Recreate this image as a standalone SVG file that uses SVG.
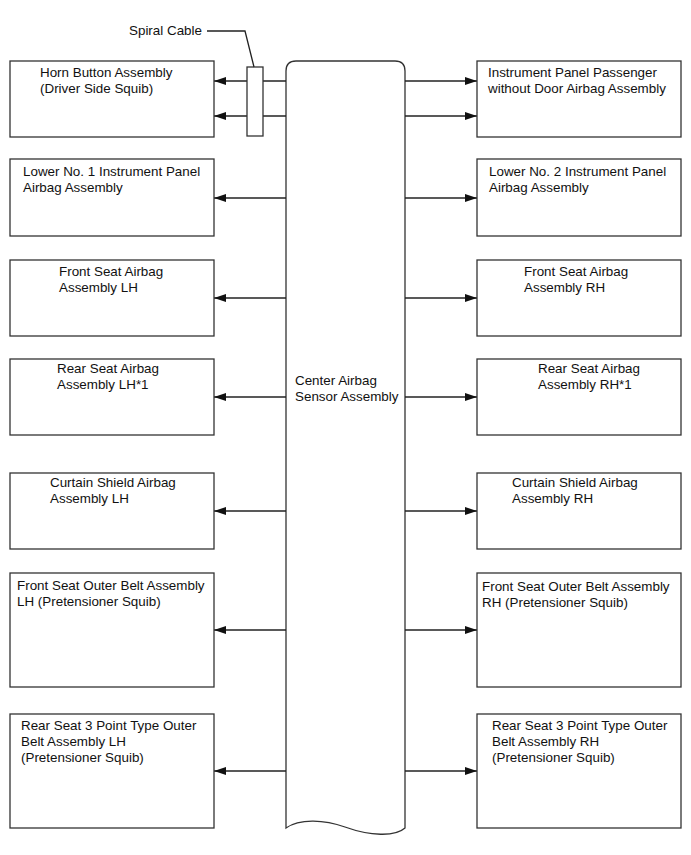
<svg xmlns="http://www.w3.org/2000/svg" width="691" height="855" viewBox="0 0 691 855">
<style>
.box{fill:#fff;stroke:#333;stroke-width:1.3}
.ln{fill:none;stroke:#222;stroke-width:1.3}
text{font-family:"Liberation Sans",Arial,sans-serif;font-size:13.4px;fill:#111}
</style>
<defs>
<marker id="ah" viewBox="0 0 12 8" refX="12" refY="4" markerWidth="12" markerHeight="8" markerUnits="userSpaceOnUse" orient="auto">
<path d="M0,0 L12,4 L0,8 Z" fill="#111"/>
</marker>
</defs>
<rect width="691" height="855" fill="#fff"/>

<g id="center">
<path class="box" d="M286,828 L286,71 Q286,61 296,61 L395,61 Q405,61 405,71 L405,828 C395,837 370,836 345,827 C325,820 300,818 286,828 Z"/>
<text x="295" y="385">Center Airbag</text>
<text x="295" y="401">Sensor Assembly</text>
</g>

<g id="connectors">
<line class="ln" x1="286" y1="81" x2="214" y2="81" marker-end="url(#ah)"/>
<line class="ln" x1="286" y1="116" x2="214" y2="116" marker-end="url(#ah)"/>
<line class="ln" x1="405" y1="81" x2="477" y2="81" marker-end="url(#ah)"/>
<line class="ln" x1="405" y1="116" x2="477" y2="116" marker-end="url(#ah)"/>
<line class="ln" x1="286" y1="198" x2="214" y2="198" marker-end="url(#ah)"/>
<line class="ln" x1="405" y1="198" x2="477" y2="198" marker-end="url(#ah)"/>
<line class="ln" x1="286" y1="298" x2="214" y2="298" marker-end="url(#ah)"/>
<line class="ln" x1="405" y1="298" x2="477" y2="298" marker-end="url(#ah)"/>
<line class="ln" x1="286" y1="397" x2="214" y2="397" marker-end="url(#ah)"/>
<line class="ln" x1="405" y1="397" x2="477" y2="397" marker-end="url(#ah)"/>
<line class="ln" x1="286" y1="511" x2="214" y2="511" marker-end="url(#ah)"/>
<line class="ln" x1="405" y1="511" x2="477" y2="511" marker-end="url(#ah)"/>
<line class="ln" x1="286" y1="630" x2="214" y2="630" marker-end="url(#ah)"/>
<line class="ln" x1="405" y1="630" x2="477" y2="630" marker-end="url(#ah)"/>
<line class="ln" x1="286" y1="771" x2="214" y2="771" marker-end="url(#ah)"/>
<line class="ln" x1="405" y1="771" x2="477" y2="771" marker-end="url(#ah)"/>
</g>

<g id="spiral-cable">
<rect class="box" x="247" y="67" width="16" height="69"/>
<polyline class="ln" points="207,31 245,31 254,67"/>
<text x="129" y="35">Spiral Cable</text>
</g>

<g id="horn">
<rect class="box" x="10" y="61" width="204" height="76"/>
<text x="40" y="77">Horn Button Assembly</text>
<text x="40" y="93">(Driver Side Squib)</text>
</g>
<g id="ip-passenger">
<rect class="box" x="477" y="61" width="204" height="76"/>
<text x="488" y="77">Instrument Panel Passenger</text>
<text x="488" y="93">without Door Airbag Assembly</text>
</g>

<g id="lower-no1">
<rect class="box" x="10" y="159" width="204" height="77"/>
<text x="23" y="176">Lower No. 1 Instrument Panel</text>
<text x="23" y="192">Airbag Assembly</text>
</g>
<g id="lower-no2">
<rect class="box" x="477" y="159" width="204" height="77"/>
<text x="489" y="176">Lower No. 2 Instrument Panel</text>
<text x="489" y="192">Airbag Assembly</text>
</g>

<g id="front-seat-lh">
<rect class="box" x="10" y="260" width="204" height="76"/>
<text x="59" y="276">Front Seat Airbag</text>
<text x="59" y="292">Assembly LH</text>
</g>
<g id="front-seat-rh">
<rect class="box" x="477" y="260" width="204" height="76"/>
<text x="524" y="276">Front Seat Airbag</text>
<text x="524" y="292">Assembly RH</text>
</g>

<g id="rear-seat-lh">
<rect class="box" x="10" y="359" width="204" height="76"/>
<text x="57" y="373">Rear Seat Airbag</text>
<text x="57" y="389">Assembly LH*1</text>
</g>
<g id="rear-seat-rh">
<rect class="box" x="477" y="359" width="204" height="76"/>
<text x="538" y="373">Rear Seat Airbag</text>
<text x="538" y="389">Assembly RH*1</text>
</g>

<g id="curtain-lh">
<rect class="box" x="10" y="473" width="204" height="76"/>
<text x="50" y="487">Curtain Shield Airbag</text>
<text x="50" y="503">Assembly LH</text>
</g>
<g id="curtain-rh">
<rect class="box" x="477" y="473" width="204" height="76"/>
<text x="512" y="487">Curtain Shield Airbag</text>
<text x="512" y="503">Assembly RH</text>
</g>

<g id="front-belt-lh">
<rect class="box" x="10" y="573" width="204" height="114"/>
<text x="17" y="590">Front Seat Outer Belt Assembly</text>
<text x="17" y="606">LH (Pretensioner Squib)</text>
</g>
<g id="front-belt-rh">
<rect class="box" x="477" y="573" width="204" height="114"/>
<text x="482" y="591">Front Seat Outer Belt Assembly</text>
<text x="482" y="607">RH (Pretensioner Squib)</text>
</g>

<g id="rear-belt-lh">
<rect class="box" x="10" y="714" width="204" height="114"/>
<text x="21" y="730">Rear Seat 3 Point Type Outer</text>
<text x="21" y="746">Belt Assembly LH</text>
<text x="21" y="762">(Pretensioner Squib)</text>
</g>
<g id="rear-belt-rh">
<rect class="box" x="477" y="714" width="204" height="114"/>
<text x="492" y="730">Rear Seat 3 Point Type Outer</text>
<text x="492" y="746">Belt Assembly RH</text>
<text x="492" y="762">(Pretensioner Squib)</text>
</g>
</svg>
